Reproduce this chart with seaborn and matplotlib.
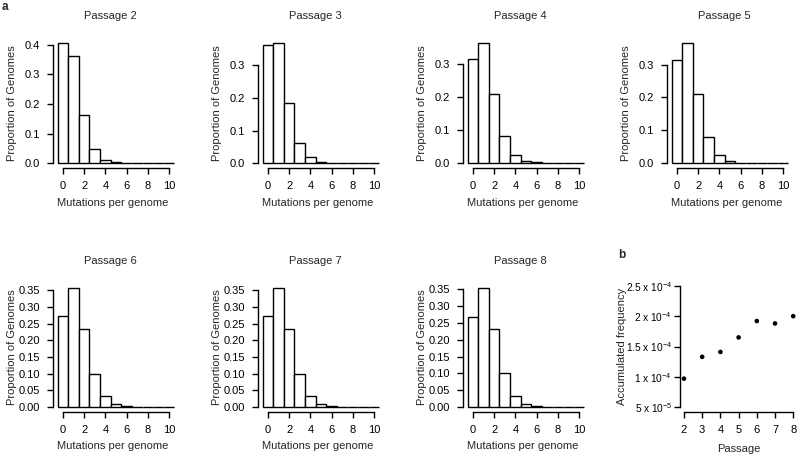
import numpy as np
import pandas as pd
import matplotlib
matplotlib.use("Agg")
import matplotlib.pyplot as plt
import seaborn as sns

sns.set_style("ticks")
plt.rcParams["font.family"] = ["Liberation Sans", "DejaVu Sans"]
plt.rcParams["mathtext.fontset"] = "custom"
plt.rcParams["mathtext.rm"] = "Liberation Sans"
plt.rcParams["mathtext.it"] = "Liberation Sans:italic"
plt.rcParams["mathtext.bf"] = "Liberation Sans:bold"

# mutations per genome (bin centres)
mutations = list(range(11))

# proportion of genomes per passage
passage_2 = [0.407, 0.363, 0.164, 0.049, 0.011, 0.003, 0.001, 0.0003, 0.0001, 0.0, 0.0]
passage_3 = [0.363, 0.369, 0.186, 0.063, 0.0175, 0.005, 0.002, 0.0005, 0.0001, 0.0, 0.0]
passage_4 = [0.314, 0.364, 0.210, 0.083, 0.0245, 0.007, 0.003, 0.0007, 0.0002, 0.0, 0.0]
passage_5 = [0.315, 0.366, 0.210, 0.081, 0.024, 0.006, 0.002, 0.0007, 0.0002, 0.0, 0.0]
passage_6 = [0.274, 0.357, 0.233, 0.099, 0.034, 0.010, 0.003, 0.001, 0.0002, 0.0, 0.0]
passage_7 = [0.274, 0.357, 0.233, 0.100, 0.034, 0.009, 0.003, 0.001, 0.0002, 0.0, 0.0]
passage_8 = [0.266, 0.354, 0.233, 0.102, 0.034, 0.009, 0.003, 0.001, 0.0002, 0.0, 0.0]

hist_titles = ["Passage 2", "Passage 3", "Passage 4", "Passage 5",
               "Passage 6", "Passage 7", "Passage 8"]
hist_values = [passage_2, passage_3, passage_4, passage_5,
               passage_6, passage_7, passage_8]

# panel b
passages = [2, 3, 4, 5, 6, 7, 8]
accum_freq = [9.7e-5, 1.33e-4, 1.41e-4, 1.65e-4, 1.92e-4, 1.88e-4, 2.0e-4]
freq_ticks = [5e-5, 1e-4, 1.5e-4, 2e-4, 2.5e-4]
freq_labels = [r"5 x 10$^{-5}$", r"1 x 10$^{-4}$", r"1.5 x 10$^{-4}$",
               r"2 x 10$^{-4}$", r"2.5 x 10$^{-4}$"]

FS = 8.0
W, H = 800, 459
fig = plt.figure(figsize=(8, 4.59), dpi=100)
fig.patch.set_facecolor("white")


def px_axes(left, top, width, height):
    return fig.add_axes([left / W, 1 - (top + height) / H, width / W, height / H])


def r_style(ax, pad=5):
    for side in ["top", "right"]:
        ax.spines[side].set_visible(False)
    for side in ["left", "bottom"]:
        ax.spines[side].set_linewidth(1.0)
        ax.spines[side].set_color("black")
    ax.tick_params(direction="out", length=4.2, width=1.0, colors="black",
                   labelsize=FS, pad=pad)
    ax.set_facecolor("white")
    ax.grid(False)


lefts = [53, 258, 463, 667, 53, 258, 463]
tops = [38, 38, 38, 38, 283, 283, 283]

for i, (title, vals) in enumerate(zip(hist_titles, hist_values)):
    ax = px_axes(lefts[i], tops[i], 126, 130 if i < 4 else 129)
    df = pd.DataFrame({"mut": mutations, "prop": vals})
    sns.histplot(data=df, x="mut", weights="prop", discrete=True, stat="count",
                 color="white", edgecolor="black", linewidth=1.0, alpha=1,
                 ax=ax)
    ymax = max(vals)
    step = 0.1 if i < 4 else 0.05
    yt = np.arange(0, ymax + 1e-9, step)
    ax.set_xlim(-0.94, 10.94)
    ax.set_ylim(-0.04 * ymax, 1.04 * ymax)
    ax.set_yticks(yt)
    ax.set_yticklabels([("%.1f" if i < 4 else "%.2f") % v for v in yt])
    ax.set_xticks([0, 2, 4, 6, 8, 10])
    ax.spines["left"].set_bounds(0, yt[-1])
    ax.spines["bottom"].set_bounds(0, 10)
    r_style(ax)
    ax.set_title(title, fontsize=FS, pad=13.5, x=0.452)
    ax.set_xlabel("Mutations per genome", fontsize=FS)
    ax.set_ylabel("Proportion of Genomes", fontsize=FS)
    ax.xaxis.set_label_coords(0.47, -29.5 / 130)
    ax.yaxis.set_label_coords(-36 / 126, 0.5)

# panel b
axb = px_axes(679.6, 281, 118, 131)
sns.scatterplot(x=passages, y=accum_freq, color="black", s=11,
                edgecolor="none", ax=axb)
axb.set_xlim(1.76, 8.24)
axb.set_ylim(5e-5 - 0.04 * 2e-4, 2.5e-4 + 0.04 * 2e-4)
axb.set_xticks(passages)
axb.set_yticks(freq_ticks)
axb.set_yticklabels(freq_labels)
axb.spines["left"].set_bounds(5e-5, 2.5e-4)
axb.spines["bottom"].set_bounds(2, 8)
r_style(axb)
axb.tick_params(axis="y", pad=1.2, labelsize=7.3)
axb.set_xlabel("Passage", fontsize=FS)
axb.set_ylabel("Accumulated frequency", fontsize=FS)
axb.xaxis.set_label_coords(0.5, -32 / 131)
axb.yaxis.set_label_coords(-53 / 118, 0.5)

fig.text(5 / W, 1 - 7 / H, "a", fontsize=8.5, fontweight="bold",
         ha="center", va="center")
fig.text(622 / W, 1 - 255 / H, "b", fontsize=8.5, fontweight="bold",
         ha="center", va="center")

fig.savefig("out.png", dpi=100, facecolor="white")
